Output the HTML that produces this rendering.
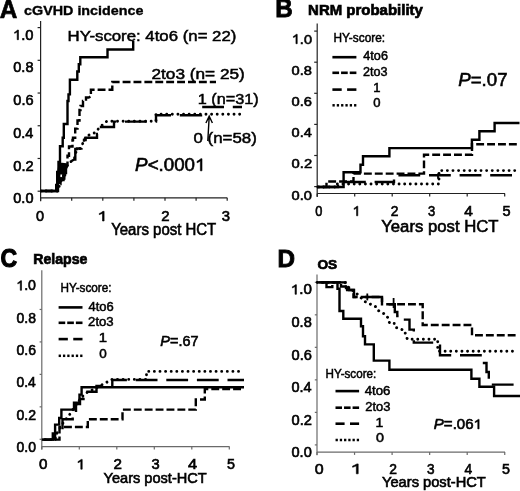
<!DOCTYPE html>
<html><head><meta charset="utf-8"><style>
html,body{margin:0;padding:0;background:#fff;}
body{width:520px;height:491px;overflow:hidden;}
svg{display:block;will-change:transform;filter:blur(0.3px);font-family:"Liberation Sans",sans-serif;}
</style></head><body>
<svg width="520" height="491" viewBox="0 0 520 491">
<line x1="40.60" y1="21.00" x2="40.60" y2="201.30" stroke="#222" stroke-width="1.20"/>
<line x1="40.60" y1="197.80" x2="227.20" y2="197.80" stroke="#222" stroke-width="1.20"/>
<line x1="37.60" y1="27.60" x2="40.60" y2="27.60" stroke="#222" stroke-width="1.20"/>
<line x1="37.60" y1="60.32" x2="40.60" y2="60.32" stroke="#222" stroke-width="1.20"/>
<line x1="37.60" y1="93.04" x2="40.60" y2="93.04" stroke="#222" stroke-width="1.20"/>
<line x1="37.60" y1="125.76" x2="40.60" y2="125.76" stroke="#222" stroke-width="1.20"/>
<line x1="37.60" y1="158.48" x2="40.60" y2="158.48" stroke="#222" stroke-width="1.20"/>
<line x1="37.60" y1="191.20" x2="40.60" y2="191.20" stroke="#222" stroke-width="1.20"/>
<line x1="40.60" y1="197.80" x2="40.60" y2="200.80" stroke="#222" stroke-width="1.20"/>
<line x1="71.70" y1="197.80" x2="71.70" y2="200.80" stroke="#222" stroke-width="1.20"/>
<line x1="102.80" y1="197.80" x2="102.80" y2="200.80" stroke="#222" stroke-width="1.20"/>
<line x1="133.90" y1="197.80" x2="133.90" y2="200.80" stroke="#222" stroke-width="1.20"/>
<line x1="165.00" y1="197.80" x2="165.00" y2="200.80" stroke="#222" stroke-width="1.20"/>
<line x1="196.10" y1="197.80" x2="196.10" y2="200.80" stroke="#222" stroke-width="1.20"/>
<line x1="227.20" y1="197.80" x2="227.20" y2="200.80" stroke="#222" stroke-width="1.20"/>
<line x1="317.20" y1="23.50" x2="317.20" y2="197.00" stroke="#222" stroke-width="1.20"/>
<line x1="317.20" y1="193.50" x2="505.00" y2="193.50" stroke="#222" stroke-width="1.20"/>
<line x1="314.20" y1="31.10" x2="317.20" y2="31.10" stroke="#222" stroke-width="1.20"/>
<line x1="314.20" y1="62.20" x2="317.20" y2="62.20" stroke="#222" stroke-width="1.20"/>
<line x1="314.20" y1="93.30" x2="317.20" y2="93.30" stroke="#222" stroke-width="1.20"/>
<line x1="314.20" y1="124.40" x2="317.20" y2="124.40" stroke="#222" stroke-width="1.20"/>
<line x1="314.20" y1="155.50" x2="317.20" y2="155.50" stroke="#222" stroke-width="1.20"/>
<line x1="314.20" y1="186.60" x2="317.20" y2="186.60" stroke="#222" stroke-width="1.20"/>
<line x1="317.20" y1="193.50" x2="317.20" y2="196.50" stroke="#222" stroke-width="1.20"/>
<line x1="354.70" y1="193.50" x2="354.70" y2="196.50" stroke="#222" stroke-width="1.20"/>
<line x1="392.20" y1="193.50" x2="392.20" y2="196.50" stroke="#222" stroke-width="1.20"/>
<line x1="429.70" y1="193.50" x2="429.70" y2="196.50" stroke="#222" stroke-width="1.20"/>
<line x1="467.20" y1="193.50" x2="467.20" y2="196.50" stroke="#222" stroke-width="1.20"/>
<line x1="504.70" y1="193.50" x2="504.70" y2="196.50" stroke="#222" stroke-width="1.20"/>
<line x1="41.80" y1="270.30" x2="41.80" y2="449.50" stroke="#6a6a6a" stroke-width="1.20"/>
<line x1="41.80" y1="446.60" x2="229.50" y2="446.60" stroke="#6a6a6a" stroke-width="1.20"/>
<line x1="39.60" y1="309.46" x2="41.80" y2="309.46" stroke="#6a6a6a" stroke-width="1.20"/>
<line x1="39.60" y1="341.92" x2="41.80" y2="341.92" stroke="#6a6a6a" stroke-width="1.20"/>
<line x1="39.60" y1="374.38" x2="41.80" y2="374.38" stroke="#6a6a6a" stroke-width="1.20"/>
<line x1="39.60" y1="406.84" x2="41.80" y2="406.84" stroke="#6a6a6a" stroke-width="1.20"/>
<line x1="39.60" y1="439.30" x2="41.80" y2="439.30" stroke="#6a6a6a" stroke-width="1.20"/>
<line x1="41.80" y1="446.60" x2="41.80" y2="449.40" stroke="#6a6a6a" stroke-width="1.20"/>
<line x1="79.30" y1="446.60" x2="79.30" y2="449.40" stroke="#6a6a6a" stroke-width="1.20"/>
<line x1="116.80" y1="446.60" x2="116.80" y2="449.40" stroke="#6a6a6a" stroke-width="1.20"/>
<line x1="154.30" y1="446.60" x2="154.30" y2="449.40" stroke="#6a6a6a" stroke-width="1.20"/>
<line x1="191.80" y1="446.60" x2="191.80" y2="449.40" stroke="#6a6a6a" stroke-width="1.20"/>
<line x1="229.30" y1="446.60" x2="229.30" y2="449.40" stroke="#6a6a6a" stroke-width="1.20"/>
<line x1="317.00" y1="274.40" x2="317.00" y2="455.30" stroke="#6a6a6a" stroke-width="1.20"/>
<line x1="317.00" y1="452.10" x2="505.00" y2="452.10" stroke="#6a6a6a" stroke-width="1.20"/>
<line x1="314.80" y1="282.30" x2="317.00" y2="282.30" stroke="#6a6a6a" stroke-width="1.20"/>
<line x1="314.80" y1="314.82" x2="317.00" y2="314.82" stroke="#6a6a6a" stroke-width="1.20"/>
<line x1="314.80" y1="347.34" x2="317.00" y2="347.34" stroke="#6a6a6a" stroke-width="1.20"/>
<line x1="314.80" y1="379.86" x2="317.00" y2="379.86" stroke="#6a6a6a" stroke-width="1.20"/>
<line x1="314.80" y1="412.38" x2="317.00" y2="412.38" stroke="#6a6a6a" stroke-width="1.20"/>
<line x1="314.80" y1="444.90" x2="317.00" y2="444.90" stroke="#6a6a6a" stroke-width="1.20"/>
<line x1="317.00" y1="452.10" x2="317.00" y2="454.90" stroke="#6a6a6a" stroke-width="1.20"/>
<line x1="354.55" y1="452.10" x2="354.55" y2="454.90" stroke="#6a6a6a" stroke-width="1.20"/>
<line x1="392.10" y1="452.10" x2="392.10" y2="454.90" stroke="#6a6a6a" stroke-width="1.20"/>
<line x1="429.65" y1="452.10" x2="429.65" y2="454.90" stroke="#6a6a6a" stroke-width="1.20"/>
<line x1="467.20" y1="452.10" x2="467.20" y2="454.90" stroke="#6a6a6a" stroke-width="1.20"/>
<line x1="504.75" y1="452.10" x2="504.75" y2="454.90" stroke="#6a6a6a" stroke-width="1.20"/>
<text x="-0.26" y="17.60" font-size="26.00" font-weight="bold" font-style="normal" textLength="17.57" lengthAdjust="spacingAndGlyphs" fill="#000" stroke="#000" stroke-width="0.70">A</text>
<text x="275.22" y="17.40" font-size="25.00" font-weight="bold" font-style="normal" textLength="17.52" lengthAdjust="spacingAndGlyphs" fill="#000" stroke="#000" stroke-width="0.80">B</text>
<text x="0.53" y="266.90" font-size="25.00" font-weight="bold" font-style="normal" textLength="16.65" lengthAdjust="spacingAndGlyphs" fill="#000" stroke="#000" stroke-width="1.10">C</text>
<text x="277.58" y="266.60" font-size="24.00" font-weight="bold" font-style="normal" textLength="17.50" lengthAdjust="spacingAndGlyphs" fill="#000" stroke="#000" stroke-width="0.90">D</text>
<text x="24.10" y="15.20" font-size="13.00" font-weight="bold" font-style="normal" textLength="119.34" lengthAdjust="spacingAndGlyphs" fill="#000" stroke="#000" stroke-width="0.35">cGVHD incidence</text>
<text x="308.08" y="14.80" font-size="15.20" font-weight="bold" font-style="normal" textLength="114.77" lengthAdjust="spacingAndGlyphs" fill="#000" stroke="#000" stroke-width="0.70">NRM probability</text>
<text x="33.23" y="264.20" font-size="14.50" font-weight="bold" font-style="normal" textLength="54.22" lengthAdjust="spacingAndGlyphs" fill="#000" stroke="#000" stroke-width="0.70">Relapse</text>
<text x="317.40" y="268.80" font-size="13.50" font-weight="bold" font-style="normal" textLength="19.83" lengthAdjust="spacingAndGlyphs" fill="#000" stroke="#000" stroke-width="0.70">OS</text>
<text x="12.99" y="39.70" font-size="14.00" font-weight="normal" font-style="normal" textLength="20.50" lengthAdjust="spacingAndGlyphs" fill="#000" stroke="#000" stroke-width="0.60"> .0</text>
<path d="M763 0L583 0L583 1147Q518 1085 412 1023Q306 961 223 930L223 1104Q372 1174 484 1274Q596 1374 643 1409L763 1409Z" transform="translate(12.99 39.70) scale(0.00720 -0.00684)" fill="#000" stroke="#000" stroke-width="0.60" vector-effect="non-scaling-stroke"/>
<text x="13.32" y="72.45" font-size="14.00" font-weight="normal" font-style="normal" textLength="20.16" lengthAdjust="spacingAndGlyphs" fill="#000" stroke="#000" stroke-width="0.60">0.8</text>
<text x="13.32" y="105.20" font-size="14.00" font-weight="normal" font-style="normal" textLength="20.24" lengthAdjust="spacingAndGlyphs" fill="#000" stroke="#000" stroke-width="0.60">0.6</text>
<text x="13.32" y="137.95" font-size="14.00" font-weight="normal" font-style="normal" textLength="20.01" lengthAdjust="spacingAndGlyphs" fill="#000" stroke="#000" stroke-width="0.60">0.4</text>
<text x="13.32" y="170.70" font-size="14.00" font-weight="normal" font-style="normal" textLength="20.32" lengthAdjust="spacingAndGlyphs" fill="#000" stroke="#000" stroke-width="0.60">0.2</text>
<text x="13.32" y="203.45" font-size="14.00" font-weight="normal" font-style="normal" textLength="20.16" lengthAdjust="spacingAndGlyphs" fill="#000" stroke="#000" stroke-width="0.60">0.0</text>
<text x="291.82" y="43.70" font-size="13.60" font-weight="normal" font-style="normal" textLength="20.16" lengthAdjust="spacingAndGlyphs" fill="#000" stroke="#000" stroke-width="0.60"> .0</text>
<path d="M763 0L583 0L583 1147Q518 1085 412 1023Q306 961 223 930L223 1104Q372 1174 484 1274Q596 1374 643 1409L763 1409Z" transform="translate(291.82 43.70) scale(0.00708 -0.00664)" fill="#000" stroke="#000" stroke-width="0.60" vector-effect="non-scaling-stroke"/>
<text x="291.61" y="74.86" font-size="13.60" font-weight="normal" font-style="normal" textLength="20.37" lengthAdjust="spacingAndGlyphs" fill="#000" stroke="#000" stroke-width="0.60">0.8</text>
<text x="291.61" y="106.02" font-size="13.60" font-weight="normal" font-style="normal" textLength="20.45" lengthAdjust="spacingAndGlyphs" fill="#000" stroke="#000" stroke-width="0.60">0.6</text>
<text x="291.62" y="137.18" font-size="13.60" font-weight="normal" font-style="normal" textLength="20.22" lengthAdjust="spacingAndGlyphs" fill="#000" stroke="#000" stroke-width="0.60">0.4</text>
<text x="291.61" y="168.34" font-size="13.60" font-weight="normal" font-style="normal" textLength="20.53" lengthAdjust="spacingAndGlyphs" fill="#000" stroke="#000" stroke-width="0.60">0.2</text>
<text x="291.61" y="199.50" font-size="13.60" font-weight="normal" font-style="normal" textLength="20.37" lengthAdjust="spacingAndGlyphs" fill="#000" stroke="#000" stroke-width="0.60">0.0</text>
<text x="16.26" y="290.30" font-size="14.00" font-weight="normal" font-style="normal" textLength="19.71" lengthAdjust="spacingAndGlyphs" fill="#000" stroke="#000" stroke-width="0.60"> .0</text>
<path d="M763 0L583 0L583 1147Q518 1085 412 1023Q306 961 223 930L223 1104Q372 1174 484 1274Q596 1374 643 1409L763 1409Z" transform="translate(16.26 290.30) scale(0.00692 -0.00684)" fill="#000" stroke="#000" stroke-width="0.60" vector-effect="non-scaling-stroke"/>
<text x="16.54" y="322.60" font-size="14.00" font-weight="normal" font-style="normal" textLength="19.42" lengthAdjust="spacingAndGlyphs" fill="#000" stroke="#000" stroke-width="0.60">0.8</text>
<text x="16.54" y="354.90" font-size="14.00" font-weight="normal" font-style="normal" textLength="19.49" lengthAdjust="spacingAndGlyphs" fill="#000" stroke="#000" stroke-width="0.60">0.6</text>
<text x="16.55" y="387.20" font-size="14.00" font-weight="normal" font-style="normal" textLength="19.27" lengthAdjust="spacingAndGlyphs" fill="#000" stroke="#000" stroke-width="0.60">0.4</text>
<text x="16.54" y="419.50" font-size="14.00" font-weight="normal" font-style="normal" textLength="19.57" lengthAdjust="spacingAndGlyphs" fill="#000" stroke="#000" stroke-width="0.60">0.2</text>
<text x="16.54" y="451.80" font-size="14.00" font-weight="normal" font-style="normal" textLength="19.42" lengthAdjust="spacingAndGlyphs" fill="#000" stroke="#000" stroke-width="0.60">0.0</text>
<text x="290.75" y="294.30" font-size="14.00" font-weight="normal" font-style="normal" textLength="21.06" lengthAdjust="spacingAndGlyphs" fill="#000" stroke="#000" stroke-width="0.60"> .0</text>
<path d="M763 0L583 0L583 1147Q518 1085 412 1023Q306 961 223 930L223 1104Q372 1174 484 1274Q596 1374 643 1409L763 1409Z" transform="translate(290.75 294.30) scale(0.00740 -0.00684)" fill="#000" stroke="#000" stroke-width="0.60" vector-effect="non-scaling-stroke"/>
<text x="291.52" y="326.90" font-size="14.00" font-weight="normal" font-style="normal" textLength="20.27" lengthAdjust="spacingAndGlyphs" fill="#000" stroke="#000" stroke-width="0.60">0.8</text>
<text x="291.51" y="359.50" font-size="14.00" font-weight="normal" font-style="normal" textLength="20.35" lengthAdjust="spacingAndGlyphs" fill="#000" stroke="#000" stroke-width="0.60">0.6</text>
<text x="291.52" y="392.10" font-size="14.00" font-weight="normal" font-style="normal" textLength="20.12" lengthAdjust="spacingAndGlyphs" fill="#000" stroke="#000" stroke-width="0.60">0.4</text>
<text x="291.51" y="424.70" font-size="14.00" font-weight="normal" font-style="normal" textLength="20.42" lengthAdjust="spacingAndGlyphs" fill="#000" stroke="#000" stroke-width="0.60">0.2</text>
<text x="291.52" y="457.30" font-size="14.00" font-weight="normal" font-style="normal" textLength="20.27" lengthAdjust="spacingAndGlyphs" fill="#000" stroke="#000" stroke-width="0.60">0.0</text>
<text x="36.02" y="221.00" font-size="14.00" font-weight="normal" font-style="normal" textLength="8.08" lengthAdjust="spacingAndGlyphs" fill="#000" stroke="#000" stroke-width="0.60">0</text>
<text x="97.32" y="221.00" font-size="14.00" font-weight="normal" font-style="normal" textLength="10.12" lengthAdjust="spacingAndGlyphs" fill="#000" stroke="#000" stroke-width="0.60"> </text>
<path d="M763 0L583 0L583 1147Q518 1085 412 1023Q306 961 223 930L223 1104Q372 1174 484 1274Q596 1374 643 1409L763 1409Z" transform="translate(97.32 221.00) scale(0.00889 -0.00684)" fill="#000" stroke="#000" stroke-width="0.60" vector-effect="non-scaling-stroke"/>
<text x="161.15" y="221.00" font-size="14.00" font-weight="normal" font-style="normal" textLength="8.31" lengthAdjust="spacingAndGlyphs" fill="#000" stroke="#000" stroke-width="0.60">2</text>
<text x="221.80" y="221.00" font-size="14.00" font-weight="normal" font-style="normal" textLength="8.28" lengthAdjust="spacingAndGlyphs" fill="#000" stroke="#000" stroke-width="0.60">3</text>
<text x="315.29" y="215.80" font-size="14.00" font-weight="normal" font-style="normal" textLength="7.14" lengthAdjust="spacingAndGlyphs" fill="#000" stroke="#000" stroke-width="0.60">0</text>
<text x="352.57" y="215.80" font-size="14.00" font-weight="normal" font-style="normal" textLength="7.80" lengthAdjust="spacingAndGlyphs" fill="#000" stroke="#000" stroke-width="0.60"> </text>
<path d="M763 0L583 0L583 1147Q518 1085 412 1023Q306 961 223 930L223 1104Q372 1174 484 1274Q596 1374 643 1409L763 1409Z" transform="translate(352.57 215.80) scale(0.00685 -0.00684)" fill="#000" stroke="#000" stroke-width="0.60" vector-effect="non-scaling-stroke"/>
<text x="390.71" y="215.80" font-size="14.00" font-weight="normal" font-style="normal" textLength="7.70" lengthAdjust="spacingAndGlyphs" fill="#000" stroke="#000" stroke-width="0.60">2</text>
<text x="427.98" y="215.80" font-size="14.00" font-weight="normal" font-style="normal" textLength="7.22" lengthAdjust="spacingAndGlyphs" fill="#000" stroke="#000" stroke-width="0.60">3</text>
<text x="464.22" y="215.80" font-size="14.00" font-weight="normal" font-style="normal" textLength="8.57" lengthAdjust="spacingAndGlyphs" fill="#000" stroke="#000" stroke-width="0.60">4</text>
<text x="502.52" y="215.80" font-size="14.00" font-weight="normal" font-style="normal" textLength="8.08" lengthAdjust="spacingAndGlyphs" fill="#000" stroke="#000" stroke-width="0.60">5</text>
<text x="38.99" y="469.20" font-size="14.20" font-weight="normal" font-style="normal" textLength="8.43" lengthAdjust="spacingAndGlyphs" fill="#000" stroke="#000" stroke-width="0.60">0</text>
<text x="76.27" y="469.20" font-size="14.20" font-weight="normal" font-style="normal" textLength="8.86" lengthAdjust="spacingAndGlyphs" fill="#000" stroke="#000" stroke-width="0.60"> </text>
<path d="M763 0L583 0L583 1147Q518 1085 412 1023Q306 961 223 930L223 1104Q372 1174 484 1274Q596 1374 643 1409L763 1409Z" transform="translate(76.27 469.20) scale(0.00778 -0.00693)" fill="#000" stroke="#000" stroke-width="0.60" vector-effect="non-scaling-stroke"/>
<text x="113.64" y="469.20" font-size="14.20" font-weight="normal" font-style="normal" textLength="8.43" lengthAdjust="spacingAndGlyphs" fill="#000" stroke="#000" stroke-width="0.60">2</text>
<text x="151.51" y="469.20" font-size="14.20" font-weight="normal" font-style="normal" textLength="8.17" lengthAdjust="spacingAndGlyphs" fill="#000" stroke="#000" stroke-width="0.60">3</text>
<text x="188.09" y="469.20" font-size="14.20" font-weight="normal" font-style="normal" textLength="9.12" lengthAdjust="spacingAndGlyphs" fill="#000" stroke="#000" stroke-width="0.60">4</text>
<text x="227.03" y="469.20" font-size="14.20" font-weight="normal" font-style="normal" textLength="7.96" lengthAdjust="spacingAndGlyphs" fill="#000" stroke="#000" stroke-width="0.60">5</text>
<text x="314.66" y="473.80" font-size="14.40" font-weight="normal" font-style="normal" textLength="8.90" lengthAdjust="spacingAndGlyphs" fill="#000" stroke="#000" stroke-width="0.60">0</text>
<text x="350.29" y="473.80" font-size="14.40" font-weight="normal" font-style="normal" textLength="11.81" lengthAdjust="spacingAndGlyphs" fill="#000" stroke="#000" stroke-width="0.60"> </text>
<path d="M763 0L583 0L583 1147Q518 1085 412 1023Q306 961 223 930L223 1104Q372 1174 484 1274Q596 1374 643 1409L763 1409Z" transform="translate(350.29 473.80) scale(0.01037 -0.00703)" fill="#000" stroke="#000" stroke-width="0.60" vector-effect="non-scaling-stroke"/>
<text x="389.31" y="473.80" font-size="14.40" font-weight="normal" font-style="normal" textLength="7.70" lengthAdjust="spacingAndGlyphs" fill="#000" stroke="#000" stroke-width="0.60">2</text>
<text x="427.06" y="473.80" font-size="14.40" font-weight="normal" font-style="normal" textLength="7.57" lengthAdjust="spacingAndGlyphs" fill="#000" stroke="#000" stroke-width="0.60">3</text>
<text x="464.45" y="473.80" font-size="14.40" font-weight="normal" font-style="normal" textLength="7.68" lengthAdjust="spacingAndGlyphs" fill="#000" stroke="#000" stroke-width="0.60">4</text>
<text x="502.03" y="473.80" font-size="14.40" font-weight="normal" font-style="normal" textLength="7.96" lengthAdjust="spacingAndGlyphs" fill="#000" stroke="#000" stroke-width="0.60">5</text>
<text x="111.18" y="234.50" font-size="15.60" font-weight="normal" font-style="normal" textLength="105.10" lengthAdjust="spacingAndGlyphs" fill="#000" stroke="#000" stroke-width="0.60">Years post HCT</text>
<text x="381.18" y="231.90" font-size="16.20" font-weight="normal" font-style="normal" textLength="117.38" lengthAdjust="spacingAndGlyphs" fill="#000" stroke="#000" stroke-width="0.60">Years post HCT</text>
<text x="103.54" y="482.80" font-size="14.30" font-weight="normal" font-style="normal" textLength="103.18" lengthAdjust="spacingAndGlyphs" fill="#000" stroke="#000" stroke-width="0.60">Years post-HCT</text>
<text x="382.03" y="487.30" font-size="13.80" font-weight="normal" font-style="normal" textLength="103.79" lengthAdjust="spacingAndGlyphs" fill="#000" stroke="#000" stroke-width="0.60">Years post-HCT</text>
<text x="135.14" y="170.80" font-size="17.60" font-weight="normal" font-style="normal" textLength="70.30" lengthAdjust="spacingAndGlyphs" fill="#000" stroke="#000" stroke-width="0.60"><tspan font-style="italic">P</tspan><tspan>&lt;.000 </tspan></text>
<path d="M763 0L583 0L583 1147Q518 1085 412 1023Q306 961 223 930L223 1104Q372 1174 484 1274Q596 1374 643 1409L763 1409Z" transform="translate(195.02 170.80) scale(0.00915 -0.00859)" fill="#000" stroke="#000" stroke-width="0.60" vector-effect="non-scaling-stroke"/>
<text x="458.24" y="86.00" font-size="19.00" font-weight="normal" font-style="normal" textLength="49.32" lengthAdjust="spacingAndGlyphs" fill="#000" stroke="#000" stroke-width="0.60"><tspan font-style="italic">P</tspan><tspan>=.07</tspan></text>
<text x="160.37" y="345.75" font-size="14.20" font-weight="normal" font-style="normal" textLength="38.07" lengthAdjust="spacingAndGlyphs" fill="#000" stroke="#000" stroke-width="0.60"><tspan font-style="italic">P</tspan><tspan>=.67</tspan></text>
<text x="433.85" y="428.90" font-size="13.80" font-weight="normal" font-style="normal" textLength="48.01" lengthAdjust="spacingAndGlyphs" fill="#000" stroke="#000" stroke-width="0.60"><tspan font-style="italic">P</tspan><tspan>=.06 </tspan></text>
<path d="M763 0L583 0L583 1147Q518 1085 412 1023Q306 961 223 930L223 1104Q372 1174 484 1274Q596 1374 643 1409L763 1409Z" transform="translate(473.51 428.90) scale(0.00733 -0.00674)" fill="#000" stroke="#000" stroke-width="0.60" vector-effect="non-scaling-stroke"/>
<text x="67.61" y="40.80" font-size="15.20" font-weight="normal" font-style="normal" textLength="168.78" lengthAdjust="spacingAndGlyphs" fill="#000" stroke="#000" stroke-width="0.50">HY-score: 4to6 (n= 22)</text>
<text x="151.49" y="79.20" font-size="15.00" font-weight="normal" font-style="normal" textLength="93.30" lengthAdjust="spacingAndGlyphs" fill="#000" stroke="#000" stroke-width="0.50">2to3 (n= 25)</text>
<text x="197.73" y="103.50" font-size="15.00" font-weight="normal" font-style="normal" textLength="61.04" lengthAdjust="spacingAndGlyphs" fill="#000" stroke="#000" stroke-width="0.50">1 (n=31)</text>
<text x="193.47" y="143.00" font-size="15.20" font-weight="normal" font-style="normal" textLength="63.33" lengthAdjust="spacingAndGlyphs" fill="#000" stroke="#000" stroke-width="0.50">0 (n=58)</text>
<path d="M207.8 141 L209.2 116.5 M205.9 123 L209.2 116.2 L212.4 123" fill="none" stroke="#000" stroke-width="1.4"/>
<text x="333.50" y="41.50" font-size="12.30" font-weight="normal" font-style="normal" textLength="51.56" lengthAdjust="spacingAndGlyphs" fill="#000" stroke="#000" stroke-width="0.50">HY-score:</text>
<line x1="332.40" y1="57.20" x2="356.40" y2="57.20" stroke="#000" stroke-width="2.6"/>
<line x1="332.40" y1="72.80" x2="339.07" y2="72.80" stroke="#000" stroke-width="2.6"/>
<line x1="341.07" y1="72.80" x2="347.73" y2="72.80" stroke="#000" stroke-width="2.6"/>
<line x1="349.73" y1="72.80" x2="356.40" y2="72.80" stroke="#000" stroke-width="2.6"/>
<line x1="332.40" y1="89.60" x2="341.70" y2="89.60" stroke="#000" stroke-width="2.6"/>
<line x1="347.10" y1="89.60" x2="356.40" y2="89.60" stroke="#000" stroke-width="2.6"/>
<rect x="332.45" y="104.05" width="2.3" height="2.5" fill="#000"/>
<rect x="336.77" y="104.05" width="2.3" height="2.5" fill="#000"/>
<rect x="341.09" y="104.05" width="2.3" height="2.5" fill="#000"/>
<rect x="345.41" y="104.05" width="2.3" height="2.5" fill="#000"/>
<rect x="349.73" y="104.05" width="2.3" height="2.5" fill="#000"/>
<rect x="354.05" y="104.05" width="2.3" height="2.5" fill="#000"/>
<text x="363.33" y="60.30" font-size="12.30" font-weight="normal" font-style="normal" textLength="24.60" lengthAdjust="spacingAndGlyphs" fill="#000" stroke="#000" stroke-width="0.50">4to6</text>
<text x="363.02" y="76.10" font-size="12.30" font-weight="normal" font-style="normal" textLength="24.51" lengthAdjust="spacingAndGlyphs" fill="#000" stroke="#000" stroke-width="0.50">2to3</text>
<text x="373.37" y="92.30" font-size="12.30" font-weight="normal" font-style="normal" textLength="7.24" lengthAdjust="spacingAndGlyphs" fill="#000" stroke="#000" stroke-width="0.50">1</text>
<text x="373.23" y="107.10" font-size="12.30" font-weight="normal" font-style="normal" textLength="7.26" lengthAdjust="spacingAndGlyphs" fill="#000" stroke="#000" stroke-width="0.50">0</text>
<text x="60.41" y="291.70" font-size="12.30" font-weight="normal" font-style="normal" textLength="51.14" lengthAdjust="spacingAndGlyphs" fill="#000" stroke="#000" stroke-width="0.50">HY-score:</text>
<line x1="58.60" y1="307.40" x2="82.50" y2="307.40" stroke="#000" stroke-width="2.6"/>
<line x1="58.60" y1="322.80" x2="65.23" y2="322.80" stroke="#000" stroke-width="2.6"/>
<line x1="67.23" y1="322.80" x2="73.87" y2="322.80" stroke="#000" stroke-width="2.6"/>
<line x1="75.87" y1="322.80" x2="82.50" y2="322.80" stroke="#000" stroke-width="2.6"/>
<line x1="58.60" y1="339.10" x2="67.85" y2="339.10" stroke="#000" stroke-width="2.6"/>
<line x1="73.25" y1="339.10" x2="82.50" y2="339.10" stroke="#000" stroke-width="2.6"/>
<rect x="58.65" y="354.55" width="2.3" height="2.5" fill="#000"/>
<rect x="62.95" y="354.55" width="2.3" height="2.5" fill="#000"/>
<rect x="67.25" y="354.55" width="2.3" height="2.5" fill="#000"/>
<rect x="71.55" y="354.55" width="2.3" height="2.5" fill="#000"/>
<rect x="75.85" y="354.55" width="2.3" height="2.5" fill="#000"/>
<rect x="80.15" y="354.55" width="2.3" height="2.5" fill="#000"/>
<text x="88.43" y="310.50" font-size="12.30" font-weight="normal" font-style="normal" textLength="25.22" lengthAdjust="spacingAndGlyphs" fill="#000" stroke="#000" stroke-width="0.50">4to6</text>
<text x="88.09" y="325.90" font-size="12.30" font-weight="normal" font-style="normal" textLength="25.57" lengthAdjust="spacingAndGlyphs" fill="#000" stroke="#000" stroke-width="0.50">2to3</text>
<text x="98.73" y="342.20" font-size="12.30" font-weight="normal" font-style="normal" textLength="8.28" lengthAdjust="spacingAndGlyphs" fill="#000" stroke="#000" stroke-width="0.50">1</text>
<text x="99.31" y="357.60" font-size="12.30" font-weight="normal" font-style="normal" textLength="7.49" lengthAdjust="spacingAndGlyphs" fill="#000" stroke="#000" stroke-width="0.50">0</text>
<text x="325.52" y="378.40" font-size="12.30" font-weight="normal" font-style="normal" textLength="50.72" lengthAdjust="spacingAndGlyphs" fill="#000" stroke="#000" stroke-width="0.50">HY-score:</text>
<line x1="335.50" y1="391.10" x2="359.10" y2="391.10" stroke="#000" stroke-width="2.6"/>
<line x1="335.50" y1="407.70" x2="342.03" y2="407.70" stroke="#000" stroke-width="2.6"/>
<line x1="344.03" y1="407.70" x2="350.57" y2="407.70" stroke="#000" stroke-width="2.6"/>
<line x1="352.57" y1="407.70" x2="359.10" y2="407.70" stroke="#000" stroke-width="2.6"/>
<line x1="335.50" y1="423.70" x2="344.60" y2="423.70" stroke="#000" stroke-width="2.6"/>
<line x1="350.00" y1="423.70" x2="359.10" y2="423.70" stroke="#000" stroke-width="2.6"/>
<rect x="335.55" y="438.75" width="2.3" height="2.5" fill="#000"/>
<rect x="339.79" y="438.75" width="2.3" height="2.5" fill="#000"/>
<rect x="344.03" y="438.75" width="2.3" height="2.5" fill="#000"/>
<rect x="348.27" y="438.75" width="2.3" height="2.5" fill="#000"/>
<rect x="352.51" y="438.75" width="2.3" height="2.5" fill="#000"/>
<rect x="356.75" y="438.75" width="2.3" height="2.5" fill="#000"/>
<text x="364.72" y="394.80" font-size="12.30" font-weight="normal" font-style="normal" textLength="25.74" lengthAdjust="spacingAndGlyphs" fill="#000" stroke="#000" stroke-width="0.50">4to6</text>
<text x="365.30" y="410.70" font-size="12.30" font-weight="normal" font-style="normal" textLength="25.14" lengthAdjust="spacingAndGlyphs" fill="#000" stroke="#000" stroke-width="0.50">2to3</text>
<text x="375.50" y="427.00" font-size="12.30" font-weight="normal" font-style="normal" textLength="7.76" lengthAdjust="spacingAndGlyphs" fill="#000" stroke="#000" stroke-width="0.50">1</text>
<text x="375.98" y="441.60" font-size="12.30" font-weight="normal" font-style="normal" textLength="7.96" lengthAdjust="spacingAndGlyphs" fill="#000" stroke="#000" stroke-width="0.50">0</text>
<path d="M40.60 191.00 L58.00 191.00 L60.00 183.00 L62.00 178.00 L64.00 175.00 L66.00 170.00 L67.50 165.00 L70.00 162.00 L74.00 160.00 L76.00 152.00 L80.00 148.50 L83.00 143.00 L86.00 136.50 L90.00 134.50 L95.00 132.70 L100.00 127.00 L106.80 121.20 L156.00 121.20 L156.00 114.30 L240.50 114.30" fill="none" stroke="#000" stroke-width="2.9" stroke-dasharray="0.01 5.6" stroke-linecap="round" stroke-linejoin="miter" stroke-dashoffset="0.19" />
<path d="M40.60 191.00 L57.00 191.00 L57.00 183.00 L59.00 183.00 L59.00 178.50 L64.30 178.50 L64.30 173.00 L66.00 173.00 L66.00 167.00 L66.50 167.00 L66.50 162.30 L68.70 162.30 L74.50 159.50 L75.30 159.50 L75.30 149.00 L77.00 149.00 L77.00 148.50 L81.40 148.50 L81.40 144.00 L84.00 144.00 L84.00 140.00 L85.60 140.00 L85.60 137.80 L97.00 137.80 L97.00 134.00 L99.40 134.00 L99.40 127.00 L114.00 127.00 L114.00 121.60 L156.00 121.60 L156.00 115.20 L201.00 115.20 L201.00 107.00 L242.00 107.00" fill="none" stroke="#000" stroke-width="2.4" stroke-dasharray="21.8 8.8" stroke-linejoin="miter" stroke-dashoffset="1.36" />
<path d="M40.60 191.00 L58.00 191.00 L58.00 184.00 L60.50 184.00 L60.50 180.00 L63.50 180.00 L63.50 175.00 L65.00 175.00 L65.00 170.00 L66.30 170.00 L66.30 165.00 L67.50 165.00 L67.50 155.70 L69.00 155.70 L69.00 146.50 L72.50 146.50 L72.50 140.00 L73.00 140.00 L73.00 137.80 L75.20 137.80 L75.20 128.60 L77.50 128.60 L77.50 120.50 L79.50 120.50 L79.50 110.00 L80.50 110.00 L80.50 106.00 L83.00 106.00 L83.00 101.00 L86.00 101.00 L86.00 97.50 L88.70 97.50 L90.90 96.40 L90.90 89.70 L112.30 89.70 L112.30 82.00 L216.00 82.00" fill="none" stroke="#000" stroke-width="2.4" stroke-dasharray="7.9 3.0" stroke-linejoin="miter" stroke-dashoffset="6.04" />
<path d="M40.60 191.00 L56.20 191.00 L56.20 185.00 L57.20 185.00 L57.20 172.00 L58.50 172.00 L58.50 162.00 L60.00 162.00 L60.00 146.30 L62.70 146.30 L62.70 137.80 L63.80 137.80 L63.80 124.00 L67.50 124.00 L67.50 101.00 L68.50 101.00 L68.50 94.40 L69.90 94.40 L69.90 79.70 L77.30 79.70 L77.30 71.50 L78.80 71.50 L78.80 64.20 L80.30 64.20 L80.30 57.30 L107.50 57.30 L107.50 49.50 L133.20 49.50 L133.20 41.00" fill="none" stroke="#000" stroke-width="2.4" stroke-linejoin="miter" />
<path d="M317.20 187.00 L336.00 187.00 L336.00 184.00 L439.00 184.00 L439.00 170.60 L516.00 170.60" fill="none" stroke="#000" stroke-width="2.9" stroke-dasharray="0.01 5.6" stroke-linecap="round" stroke-linejoin="miter" stroke-dashoffset="4.90" />
<path d="M317.20 187.00 L338.00 187.00 L338.00 182.00 L394.00 182.00 L394.00 175.20 L513.00 175.20" fill="none" stroke="#000" stroke-width="2.4" stroke-dasharray="21.8 8.8" stroke-linejoin="miter" stroke-dashoffset="29.40" />
<path d="M317.20 187.00 L326.50 187.00 L326.50 181.50 L353.50 181.50 L353.50 173.60 L424.00 173.60 L424.00 154.70 L472.00 154.70 L472.00 144.20 L518.00 144.20" fill="none" stroke="#000" stroke-width="2.4" stroke-dasharray="7.9 3.0" stroke-linejoin="miter" stroke-dashoffset="5.30" />
<path d="M317.20 187.00 L343.60 187.00 L343.60 172.30 L360.50 172.30 L360.50 164.70 L363.00 164.70 L363.00 156.30 L389.40 156.30 L389.40 148.10 L471.90 148.10 L471.90 139.80 L479.40 139.80 L479.40 131.20 L494.60 131.20 L494.60 123.00 L519.50 123.00" fill="none" stroke="#000" stroke-width="2.4" stroke-linejoin="miter" />
<path d="M41.80 439.60 L55.00 439.60 L57.00 433.00 L60.00 428.00 L63.00 423.00 L66.00 419.00 L70.00 414.00 L74.00 408.00 L78.00 402.00 L82.00 397.00 L86.00 393.00 L96.00 388.00 L112.00 379.40 L146.50 379.40 L146.50 371.40 L240.00 371.40" fill="none" stroke="#000" stroke-width="2.9" stroke-dasharray="0.01 5.6" stroke-linecap="round" stroke-linejoin="miter" stroke-dashoffset="2.11" />
<path d="M41.80 439.60 L52.80 439.60 L52.80 433.40 L62.50 433.40 L62.50 419.20 L72.70 419.20 L72.70 414.00 L76.00 414.00 L76.00 404.00 L80.00 404.00 L80.00 399.00 L85.00 399.00 L85.00 391.80 L96.50 391.80 L96.50 386.00 L112.30 386.00 L112.30 380.00 L244.00 380.00" fill="none" stroke="#000" stroke-width="2.4" stroke-dasharray="21.8 8.8" stroke-linejoin="miter" stroke-dashoffset="30.10" />
<path d="M41.80 439.60 L59.50 439.60 L59.50 427.00 L87.80 427.00 L87.80 419.20 L122.50 419.20 L122.50 409.60 L195.80 409.60 L195.80 399.50 L204.80 399.50 L204.80 389.00 L244.00 389.00" fill="none" stroke="#000" stroke-width="2.4" stroke-dasharray="7.9 3.0" stroke-linejoin="miter" stroke-dashoffset="8.80" />
<path d="M41.80 439.60 L55.10 439.60 L55.10 424.60 L59.20 424.60 L59.20 418.00 L61.40 418.00 L61.40 409.60 L74.00 409.60 L74.00 402.70 L79.50 402.70 L79.50 394.60 L81.60 394.60 L81.60 387.20 L244.00 387.20" fill="none" stroke="#000" stroke-width="2.4" stroke-linejoin="miter" />
<path d="M317.00 282.40 L345.00 282.40 L349.00 288.00 L355.00 292.00 L364.80 301.50 L377.00 307.30 L378.70 310.80 L386.00 314.80 L388.50 318.80 L389.60 323.50 L395.00 323.50 L396.00 327.50 L404.60 330.40 L405.80 335.60 L407.50 339.30 L437.70 339.30 L437.70 351.20 L513.00 351.20" fill="none" stroke="#000" stroke-width="2.9" stroke-dasharray="0.01 5.6" stroke-linecap="round" stroke-linejoin="miter" stroke-dashoffset="5.38" />
<path d="M317.00 282.40 L346.00 282.40 L346.00 288.00 L349.00 288.00 L349.00 290.00 L354.00 290.00 L354.00 297.00 L382.00 297.00 L382.00 304.20 L394.80 304.20 L394.80 312.00 L397.30 312.00 L397.30 316.00 L402.70 316.00 L402.70 319.60 L409.50 319.60 L409.50 329.60 L413.80 329.60 L413.80 342.60 L440.00 342.60 L440.00 355.20 L484.00 355.20 L484.00 363.00 L486.50 363.00 L486.50 372.00 L488.80 372.00 L488.80 384.60 L514.00 384.60" fill="none" stroke="#000" stroke-width="2.4" stroke-dasharray="21.8 8.8" stroke-linejoin="miter" stroke-dashoffset="29.00" />
<path d="M317.00 282.40 L341.00 282.40 L341.00 286.50 L345.60 286.50 L345.60 290.00 L353.50 290.00 L353.50 297.00 L382.00 297.00 L382.00 304.20 L422.70 304.20 L422.70 325.00 L472.00 325.00 L472.00 335.30 L518.40 335.30" fill="none" stroke="#000" stroke-width="2.4" stroke-dasharray="7.9 3.0" stroke-linejoin="miter" stroke-dashoffset="7.10" />
<path d="M317.00 282.40 L337.50 282.40 L337.50 288.80 L339.50 288.80 L339.50 311.00 L343.30 311.00 L343.30 318.80 L361.00 318.80 L361.00 326.20 L363.00 326.20 L363.00 336.20 L365.00 336.20 L365.00 344.40 L373.80 344.40 L373.80 360.60 L389.40 360.60 L389.40 369.80 L471.40 369.80 L471.40 378.70 L479.40 378.70 L479.40 386.70 L494.10 386.70 L494.10 396.00 L520.00 396.00" fill="none" stroke="#000" stroke-width="2.4" stroke-linejoin="miter" />
<path d="M326.50 282.40 L326.50 287.10 L332.30 287.10 L332.30 285.00" fill="none" stroke="#000" stroke-width="2.4" stroke-linejoin="miter" />
<path d="M339.50 282.40 L346.60 282.40" fill="none" stroke="#000" stroke-width="2.4" stroke-linejoin="miter" />
<path d="M56.3 189 L57.2 181 L57.5 170 L58.6 163 L62 162.8 L66.5 163.2 L67.8 165 L66.4 167.5 L65.6 174 L64.8 179.6 L60.8 182.5 L58 186 Z M60.4 174.4 L62.6 174.4 L62.6 177.2 L60.4 177.2 Z" fill="#000" fill-rule="evenodd"/>
<line x1="367.30" y1="293.50" x2="367.30" y2="300.40" stroke="#000" stroke-width="1.8"/>
<line x1="393.60" y1="298.00" x2="393.60" y2="308.00" stroke="#000" stroke-width="1.8"/>
<line x1="438.00" y1="173.50" x2="438.00" y2="178.80" stroke="#000" stroke-width="1.8"/>
</svg>
</body></html>
